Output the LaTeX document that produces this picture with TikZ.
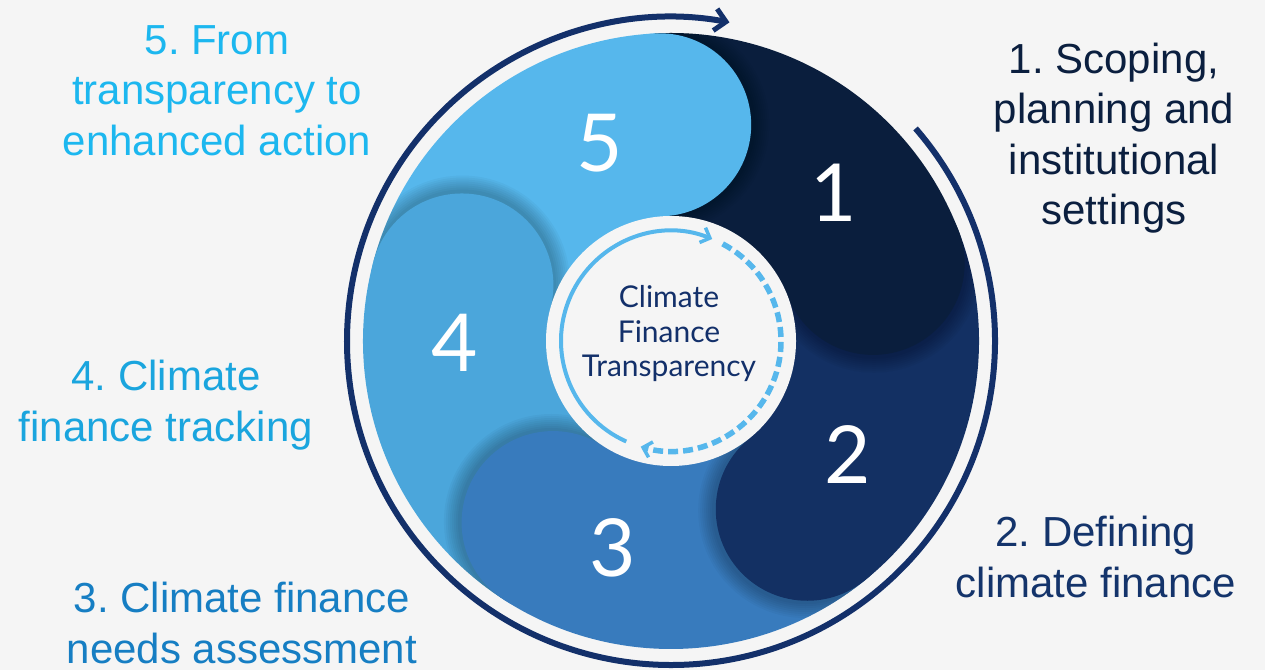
\documentclass[tikz,border=0pt]{standalone}
\usepackage{fontspec}
\setmainfont{Liberation Sans}
\newfontfamily\numfont{Lato}
\usetikzlibrary{arrows.meta}
\frenchspacing
\definecolor{bg}{HTML}{F5F5F5}
\definecolor{cOne}{HTML}{0A1E3D}
\definecolor{cTwo}{HTML}{133063}
\definecolor{cThree}{HTML}{387BBD}
\definecolor{cFour}{HTML}{4BA6DB}
\definecolor{cFive}{HTML}{56B7EC}
\definecolor{ringc}{HTML}{13306A}
\definecolor{tOne}{HTML}{0B1F3F}
\definecolor{tTwo}{HTML}{14346B}
\definecolor{tThree}{HTML}{167EC3}
\definecolor{tFour}{HTML}{1AA5DE}
\definecolor{tFive}{HTML}{1CB7EF}
\tikzset{
  label/.style={align=center, font=\frenchspacing\fontsize{42}{50.5}\selectfont},
  num/.style={text=white, font=\numfont\fontsize{80}{80}\selectfont},
  centertext/.style={align=center, text=ringc, font=\numfont\fontsize{30}{34.5}\selectfont},
}
\newcommand{\wedgefill}[2]{% color, start angle (wedge spans 72 deg)
  \fill[#1] (C) -- ++(#2:308) arc[start angle=#2, end angle=#2+72, radius=308] -- cycle;}
\newcommand{\capfill}[2]{% color, cap angle
  \begin{scope}
    \clip (C) -- ++(#2-72:308) arc[start angle=#2-72, end angle=#2, radius=308] -- cycle;
    \foreach \i in {1,...,8} {
      \fill[black, opacity=0.03] (C) ++(#2:216.5) ++(#2-90:2) circle[radius=91.5+2*\i];
    }
  \end{scope}
  \fill[#1] (C) ++(#2:216.5) circle[radius=91.5];}
\begin{document}
\begin{tikzpicture}[x=1pt,y=1pt]
\fill[bg] (0,0) rectangle (1265,670);
\useasboundingbox (0,0) rectangle (1265,670);
\coordinate (C) at (671,329);
% wedges
\wedgefill{cOne}{21}
\wedgefill{cTwo}{-51}
\wedgefill{cThree}{-123}
\wedgefill{cFour}{165}
\wedgefill{cFive}{93}
% caps with shadows
\capfill{cOne}{21}
\capfill{cTwo}{-51}
\capfill{cThree}{-123}
\capfill{cFour}{165}
\capfill{cFive}{93}
% inner circle
\node[circle, fill=bg, minimum size=250pt, inner sep=0pt] (hub) at (C) {};
% outer ring
\path (C) ++(41:324) coordinate (r0);
\draw[ringc, line width=6pt, -{Straight Barb[length=11pt,width=22pt,line width=5pt]}]
  (r0) arc[start angle=41, end angle=-280.4, radius=324];
% inner arrows
\path (C) ++(246:110) coordinate (i0);
\path (C) ++(62:110) coordinate (i1);
\draw[cFive, line width=4pt, -{Straight Barb[length=8pt,width=16pt,line width=3.5pt]}]
  (i0) arc[start angle=246, end angle=68, radius=110];
\draw[cFive, line width=5.5pt, dash pattern=on 10pt off 5pt, -{Straight Barb[length=8pt,width=16pt,line width=3.5pt]}]
  (i1) arc[start angle=62, end angle=-106, radius=110];
% hub text
\node[centertext] (ht) at (669,336) {Climate\\Finance\\Transparency};
% numbers
\node[num] (n5) at (600,527) {5};
\node[num] (n1) at (834,477) {1};
\node[num] (n2) at (848,215) {2};
\node[num] (n3) at (613,122) {3};
\node[num] (n4) at (455,327) {4};
% labels
\node[label, text=tFive] (l5) at (217,579.5) {5. From\\transparency to\\enhanced action};
\node[label, text=tFour] (l4) at (166,265) {4. Climate\\finance tracking};
\node[label, text=tThree] (l3) at (242,47) {3. Climate finance\\needs assessment};
\node[label, text=tOne] (l1) at (1114,532) {1. Scoping,\\planning and\\institutional\\settings};
\node[label, text=tTwo] (l2) at (1096,113) {2. Defining\\climate finance};
\end{tikzpicture}
\end{document}
